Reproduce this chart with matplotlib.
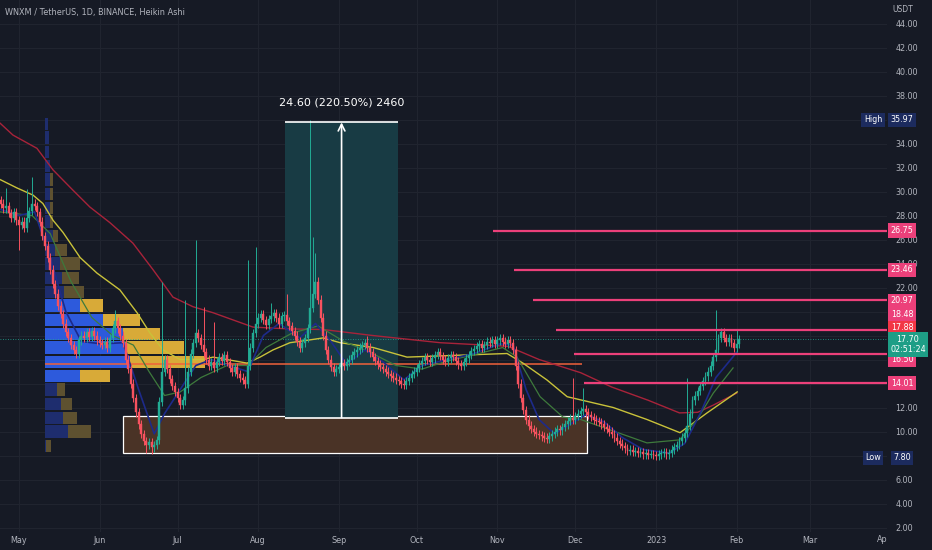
import numpy as np
import matplotlib.pyplot as plt
from matplotlib.patches import Rectangle

# --- dados (WNXM/USDT diario, Heikin Ashi) ---
# dia 0 = 1 mai 2022, primeiro candle em 24 abr 2022
first_day = -7
closes = [
    29.0, 28.6, 28.8, 28.2, 27.8, 28.3, 27.6,                      # abr
    27.2, 27.5, 27.0, 27.8, 28.4, 29.0, 28.8, 28.3, 27.5, 26.3,    # mai
    25.5, 24.5, 23.5, 22.3, 21.5, 20.5, 19.8, 19.0, 18.3, 17.8, 17.2, 16.8, 16.5,
    17.6, 18.0, 17.8, 18.3, 17.9, 18.4, 18.0, 17.6,
    17.4, 17.2, 17.5, 17.0, 17.8, 18.6, 19.2, 18.6, 18.0, 17.4,    # jun
    16.0, 15.2, 14.0, 12.8, 11.6, 10.6, 9.8, 9.2, 8.9, 9.1,
    8.7, 8.9, 9.3, 12.5, 15.0, 16.0, 15.2, 14.4, 13.8, 13.3,
    12.8, 12.2, 12.6, 13.6, 15.0, 16.5, 17.4, 18.2, 17.8, 17.2,    # jul
    16.6, 16.0, 15.5, 15.8, 15.3, 15.8, 16.2, 15.9, 16.4, 15.8,
    15.3, 15.0, 15.4, 14.8, 14.5, 14.3, 14.0, 15.5, 17.0, 18.2, 19.0,
    19.5, 19.8, 19.3, 18.9, 19.4, 19.6, 19.9, 19.5, 19.0, 19.6,    # ago
    19.7, 19.2, 18.8, 18.4, 18.0, 17.5, 17.0, 17.4, 17.8, 18.6,
    20.3, 21.5, 22.5, 21.0, 19.5, 18.0, 16.8, 16.0, 15.4, 15.0, 15.2,
    15.4, 15.7, 15.5, 15.8, 16.0, 16.4, 16.6, 16.8, 17.0, 17.2,    # set
    17.4, 17.0, 16.6, 16.2, 15.9, 15.6, 15.4, 15.2, 15.0, 14.8,
    14.6, 14.5, 14.3, 14.2, 14.0, 13.9, 14.2, 14.5, 14.8, 15.0,
    15.3, 15.6, 15.9, 16.2, 16.0, 15.8, 16.1, 16.4, 16.6, 16.3,    # out
    16.0, 15.8, 16.1, 16.4, 16.2, 15.9, 15.6, 15.5, 15.8, 16.1,
    16.4, 16.7, 16.9, 17.1, 17.3, 17.0, 17.2, 17.5, 17.4, 17.6, 17.3,
    17.6, 17.8, 17.5, 17.3, 17.6, 17.4, 16.8, 15.5, 14.0, 12.8,    # nov
    11.8, 11.0, 10.5, 10.2, 10.0, 9.8, 9.7, 9.6, 9.5, 9.4,
    9.6, 9.8, 10.0, 10.2, 10.1, 10.4, 10.6, 10.9, 11.1, 11.0,
    11.3, 11.5, 11.7, 11.9, 11.6, 11.4, 11.2, 11.0, 10.9, 10.8,    # dez
    10.6, 10.4, 10.2, 10.0, 9.8, 9.5, 9.2, 9.0, 8.8, 8.6,
    8.4, 8.5, 8.3, 8.35, 8.2, 8.3, 8.1, 8.2, 8.05, 8.1, 8.05,
    8.0, 8.1, 8.2, 8.3, 8.1, 8.2, 8.5, 8.7, 8.9, 9.2,              # jan
    9.5, 9.9, 10.5, 11.5, 12.6, 13.0, 13.4, 13.8, 14.2, 14.6,
    15.0, 15.5, 16.2, 16.8, 17.8, 18.3, 17.8, 17.5, 17.8, 17.4, 17.0,
    17.3, 17.70,                                                    # fev
]
first_open = 29.3
spike_highs = {-5: 30.3, 3: 30.2, 5: 31.2, 37: 20.1, 55: 22.5, 64: 21.0, 68: 26.0,
               71: 20.4, 75: 19.1, 88: 24.3, 91: 25.4, 97: 20.7, 103: 21.5,
               112: 35.97, 113: 26.2, 114: 24.9, 134: 18.0, 213: 14.5, 217: 13.6,
               257: 14.5, 268: 20.1, 276: 18.5}
spike_lows = {0: 25.1, 49: 8.2, 51: 8.1, 52: 8.3, 243: 7.80}

# medias moveis (pontos lidos)
ma_red_d = [-7.3, -2.3, 6.9, 13.1, 20.8, 27.3, 35, 43.8, 51.5, 59.2, 66.9, 74.6, 82.3,
            90, 104, 117, 136, 162, 188, 200, 216, 228, 242, 254, 261, 267, 276]
ma_red_v = [35.7, 34.7, 33.6, 31.8, 30.1, 28.7, 27.4, 25.7, 23.5, 21.2, 20.4, 19.9, 19.3,
            18.7, 18.55, 18.5, 18.0, 17.4, 17.1, 16.0, 14.9, 13.7, 12.6, 11.55, 11.6, 12.2, 13.2]
ma_yel_d = [-7.3, -0.8, 5.4, 9.2, 13.1, 16.9, 23.5, 30, 38.8, 45.4, 50.4, 55.4, 61.9, 70.8,
            74.6, 87.7, 92.7, 97.7, 104.2, 110.8, 117, 123.5, 136.2, 149.2, 174.6, 187.7,
            193.8, 203, 210.8, 228.5, 241.5, 254.2, 264.6, 276.2]
ma_yel_v = [31.0, 30.3, 29.7, 29.0, 27.6, 26.6, 24.5, 23.2, 21.8, 19.9, 18.2, 16.8, 16.0, 16.0,
            16.2, 15.7, 16.2, 16.8, 17.4, 17.6, 17.8, 17.4, 17.0, 16.2, 16.4, 16.5,
            15.7, 14.3, 12.9, 12.0, 11.0, 9.9, 11.55, 13.3]
ma_grn_d = [-7.3, 5, 12, 20, 28, 36, 44, 50, 56, 62, 70, 80, 88, 95, 105, 115, 125, 135, 145,
            155, 165, 175, 186, 191.5, 200.4, 209.2, 216, 241.5, 254, 260.8, 267, 274.6]
ma_grn_v = [28.3, 28.0, 26.5, 22.5, 19.5, 18.0, 17.2, 15.0, 13.0, 13.3, 14.5, 15.5, 15.5, 17.0,
            18.2, 18.8, 17.5, 16.6, 15.5, 15.2, 15.9, 16.4, 17.0, 16.2, 12.9, 11.2, 11.0,
            9.05, 9.3, 11.0, 13.2, 15.3]
ma_blu_d = [-7, 0, 6, 12, 18, 24, 32, 40, 46, 52, 56, 62, 68, 74, 82, 88, 94, 100, 108, 114,
            120, 126, 133, 140, 148, 155, 165, 175, 185, 190, 195, 200, 206, 212, 218, 225,
            232, 240, 250, 256, 262, 268, 276]
ma_blu_v = [28.5, 28.0, 28.3, 24.5, 20.0, 17.5, 17.3, 17.4, 13.5, 9.8, 11.5, 13.5, 15.5, 16.0,
            15.4, 15.0, 18.0, 19.0, 17.8, 19.0, 17.5, 15.6, 16.8, 15.8, 14.3, 15.5, 16.0,
            16.5, 17.3, 17.2, 13.5, 11.0, 9.8, 10.6, 11.4, 10.8, 9.5, 8.5, 8.2, 9.0, 11.5,
            14.5, 16.6]

# perfil de volume (linhas de preco, volume comprador / vendedor)
vp_rows = [8.21, 9.38, 10.54, 11.71, 12.88, 14.04, 15.21, 16.38, 17.54, 18.71, 19.88, 21.04,
           22.21, 23.38, 24.54, 25.71, 26.88, 28.04, 29.21, 30.38, 31.54, 32.71, 33.88, 35.04]
vp_up = [1, 23, 18, 16, 12, 35, 85, 80, 78, 58, 35, 19, 17, 15, 10, 8, 5, 5, 5, 5, 5, 4, 4, 3]
vp_down = [5, 23, 14, 11, 8, 30, 75, 59, 37, 37, 23, 20, 17, 20, 12, 5, 3, 3, 3, 3, 0, 0, 0, 0]
value_area = (5, 10)
poc_price = 15.65

# niveis horizontais
levels = [26.75, 23.46, 20.97, 18.48, 16.50, 14.01]
levels_start = [182.3, 190.4, 197.7, 206.5, 213.5, 217.3]
last_price = 17.70
countdown = '02:51:24'
last_red = 17.88
high_price, low_price = 35.97, 7.80

# ferramenta de medicao e caixa
meas_d0, meas_d1, meas_lo, meas_hi = 102.3, 145.8, 11.16, 35.76
meas_label = '24.60 (220.50%) 2460'
box_d0, box_d1, box_lo, box_hi = 40, 218.5, 8.21, 11.29

months = ['May', 'Jun', 'Jul', 'Aug', 'Sep', 'Oct', 'Nov', 'Dec', '2023', 'Feb', 'Mar']
month_days = [0, 31, 61, 92, 123, 153, 184, 214, 245, 276, 304]

# --- figura ---
bg = '#161a25'
txt = '#b2b5be'
up_c, dn_c = '#22ab94', '#f7525f'
pink = '#ec407a'
fs = 5.8

fig = plt.figure(figsize=(9.32, 5.5), dpi=100, facecolor=bg)
ax = fig.add_axes([0, 18 / 550, 887 / 932, 532 / 550])
ax.set_facecolor(bg)
ax.set_xlim(-7.3, 333.8)
ax.set_ylim(1.625, 45.96)
for s in ax.spines.values():
    s.set_visible(False)

yt = np.arange(2, 45, 2)
hidden = {8, 14, 16, 18, 20, 36}   # cobertos pelas etiquetas no original
ax.set_yticks(yt)
ax.set_yticklabels(['' if v in hidden else f'{v:.2f}' for v in yt])
ax.yaxis.tick_right()
ax.set_xticks(month_days)
ax.set_xticklabels(months)
ax.tick_params(length=0, labelsize=fs, colors=txt)
ax.tick_params(axis='y', pad=6)
ax.tick_params(axis='x', pad=3)
ax.grid(color='#20242f', lw=0.8, zorder=0)
ax.set_axisbelow(True)

# perfil de volume
x0 = 10
px = 1 / 2.6
h = vp_rows[1] - vp_rows[0]
for k, (lo, u, d) in enumerate(zip(vp_rows, vp_up, vp_down)):
    inside = value_area[0] <= k <= value_area[1]
    cu = '#2d5adc' if inside else '#1e2d6e'
    cd = '#d8aa38' if inside else '#5e5130'
    ax.barh(lo + h / 2, u * px, left=x0, height=h * 0.92, color=cu, zorder=1)
    if d > 0:
        ax.barh(lo + h / 2, d * px, left=x0 + u * px, height=h * 0.92, color=cd, zorder=1)

# caixa marrom e medicao
ax.add_patch(Rectangle((box_d0, box_lo), box_d1 - box_d0, box_hi - box_lo,
                       fc='#4a3326', ec='white', lw=0.9, zorder=1))
ax.add_patch(Rectangle((meas_d0, meas_lo), meas_d1 - meas_d0, meas_hi - meas_lo,
                       fc='#183b44', ec='none', zorder=1))
ax.hlines([meas_lo, meas_hi], meas_d0, meas_d1, colors='white', lw=1.2, zorder=6)
mid = (meas_d0 + meas_d1) / 2
ax.annotate('', xy=(mid, meas_hi), xytext=(mid, meas_lo),
            arrowprops=dict(arrowstyle='->', color='white', lw=1.2,
                            shrinkA=0, shrinkB=0, mutation_scale=12), zorder=6)
ax.text(mid, 37.4, meas_label, ha='center', va='center', color='white',
        fontsize=8, zorder=7)

# linhas horizontais
ax.hlines(poc_price, x0, 216.5, colors='#f0613a', lw=1.1, zorder=2)
ax.axhline(last_price, color=up_c, lw=0.6, ls=(0, (1, 2)), zorder=2)
ax.hlines(levels, levels_start, 333.8, colors=pink, lw=1.6, zorder=5)

# medias
ax.plot(ma_red_d, ma_red_v, color='#a8233a', lw=1, zorder=3)
ax.plot(ma_yel_d, ma_yel_v, color='#c9c23a', lw=1, zorder=3)
ax.plot(ma_grn_d, ma_grn_v, color='#3e7a3c', lw=0.9, zorder=3)
ax.plot(ma_blu_d, ma_blu_v, color='#1d2a8a', lw=1.2, zorder=3)

# candles
days = np.arange(first_day, first_day + len(closes))
c = np.array(closes)
o = np.concatenate([[first_open], c[:-1]])
top = np.maximum(o, c)
bot = np.minimum(o, c)
hi = np.array([spike_highs.get(d, t + 0.35) for d, t in zip(days, top)])
lo = np.array([spike_lows.get(d, b - 0.35) for d, b in zip(days, bot)])
cols = [up_c if cc >= oo else dn_c for oo, cc in zip(o, c)]
ax.vlines(days, lo, hi, colors=cols, lw=0.7, zorder=4)
ax.bar(days, np.maximum(top - bot, 0.08), bottom=bot, width=0.75, color=cols,
       edgecolor=cols, lw=0.3, zorder=4)

# etiquetas na escala de preco
ytr = ax.get_yaxis_transform()
tag_x = 1 + 15 / 887


def tag(y, s, fc, xpos=tag_x, color='white'):
    ax.text(xpos, y, s, transform=ytr, ha='center', va='center', fontsize=fs,
            color=color, clip_on=False, zorder=20,
            bbox=dict(boxstyle='square,pad=0.32', fc=fc, ec='none'))


tag(high_price, f'{high_price:.2f}', '#1c2b5e')
tag(high_price, 'High', '#1c2b5e', xpos=1 - 14 / 887)
tag(low_price, f'{low_price:.2f}', '#1c2b5e')
tag(low_price, 'Low', '#1c2b5e', xpos=1 - 14 / 887)
tag_pos = [26.75, 23.46, 20.90, 19.71, 15.96, 14.01]
for lv, yp in zip(levels, tag_pos):
    tag(yp, f'{lv:.2f}', pink)
tag(18.63, f'{last_red:.2f}', '#f23645')
ax.text(1 + 21 / 887, 17.27, f'{last_price:.2f}\n{countdown}', transform=ytr, ha='center',
        va='center', fontsize=fs, color='white', clip_on=False, zorder=21,
        linespacing=1.2, bbox=dict(boxstyle='square,pad=0.32', fc='#1e9e86', ec='none'))

fig.text(5 / 932, 1 - 13 / 550, 'WNXM / TetherUS, 1D, BINANCE, Heikin Ashi',
         fontsize=5.9, color=txt, va='center')
fig.text(903 / 932, 1 - 10 / 550, 'USDT', fontsize=5.5, color=txt, ha='center', va='center')
fig.text(882 / 932, 1 - 540 / 550, 'Ap', fontsize=fs, color=txt, ha='center', va='center')

fig.savefig('out.png', dpi=100, facecolor=bg)
